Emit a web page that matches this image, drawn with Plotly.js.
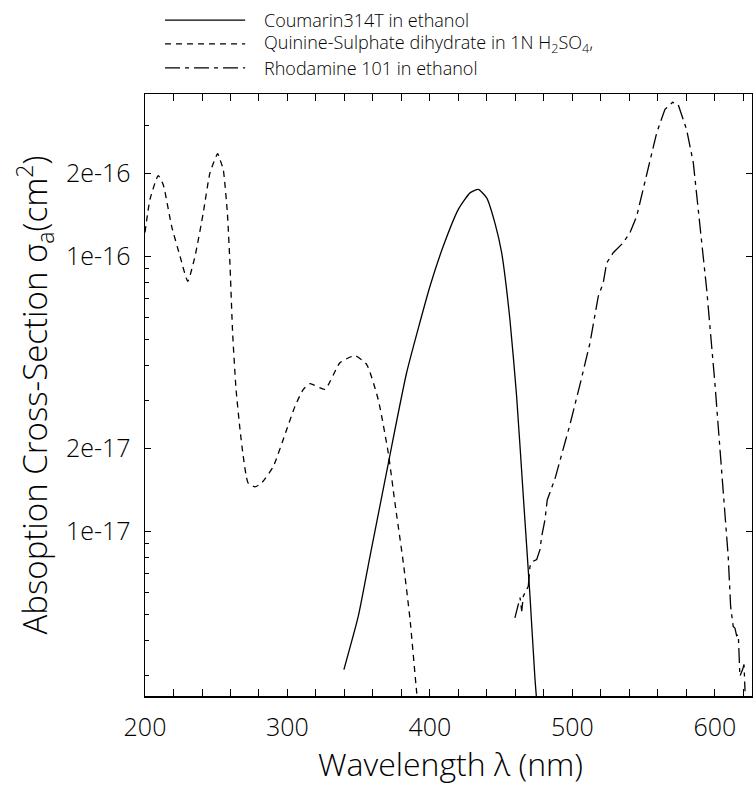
<!DOCTYPE html>
<html><head><meta charset="utf-8">
<script src="https://cdn.plot.ly/plotly-3.0.1.min.js"></script>
<style>html,body{margin:0;padding:0;background:#fff;}</style>
</head><body><div id="chart" style="width:753px;height:785px;"></div>
<script>
// Series names
const seriesNames = [
  "Coumarin314T in ethanol",
  "Quinine-Sulphate dihydrate in 1N H<sub>2</sub>SO<sub>4</sub>,",
  "Rhodamine 101 in ethanol"
];
const xTitle = "Wavelength λ (nm)";
const yTitle = "Absoption Cross-Section σ<sub>a</sub>(cm<sup>2</sup>)";

// Coumarin 314T (solid)
const lamC = [339.6, 349.7, 357.9, 370.8, 383.6, 400.0, 409.3, 419.9, 428.1, 433.9, 439.8, 445.6, 450.3, 456.1, 460.8, 465.5, 470.2, 473.7, 475.5];
const sigC = [3.14e-18, 4.91e-18, 8.1e-18, 1.77e-17, 3.77e-17, 7.78e-17, 1.087e-16, 1.48e-16, 1.70e-16, 1.75e-16, 1.63e-16, 1.32e-16, 1.03e-16, 5.89e-17, 3.1e-17, 1.34e-17, 5.8e-18, 2.9e-18, 2.2e-18];

// Quinine sulphate (dashed)
const lamQ = [200, 203.5, 209.3, 212.8, 218.7, 224.6, 230.0, 235.1, 240.9, 245.6, 251.0, 252.6, 254.9, 257.8, 259.6, 261.5, 263.9, 266.7, 268.8, 272.3, 277.2, 281.9, 290.0, 299.4, 305.3, 311.1, 315.8, 326.3, 336.8, 347.4, 355.6, 363.7, 370.7, 375.4, 381.3, 386.0, 390.7, 392.5];
const sigQ = [1.22e-16, 1.61e-16, 1.965e-16, 1.82e-16, 1.285e-16, 1.0e-16, 8.11e-17, 1.0e-16, 1.44e-16, 2.01e-16, 2.36e-16, 2.25e-16, 2.07e-16, 1.44e-16, 9.46e-17, 5.26e-17, 3.28e-17, 2.34e-17, 1.9e-17, 1.5e-17, 1.45e-17, 1.5e-17, 1.72e-17, 2.34e-17, 2.85e-17, 3.28e-17, 3.44e-17, 3.28e-17, 4.1e-17, 4.35e-17, 4.04e-17, 3.01e-17, 1.93e-17, 1.27e-17, 7.68e-18, 4.78e-18, 2.59e-18, 2.2e-18];

// Rhodamine 101 (dash-dot)
const lamR = [459.6, 461.3, 463.2, 464.4, 465.5, 469.0, 470.2, 472.5, 474.9, 477.2, 478.4, 480.7, 482.3, 487.7, 494.7, 498.2, 505.3, 512.3, 518.1, 521.6, 524.0, 528.6, 535.6, 540.4, 545.1, 552.1, 559.1, 564.9, 570.3, 574.2, 580.1, 584.8, 589.5, 594.2, 600.0, 603.5, 607.0, 609.3, 611.0, 612.8, 614.0, 615.2, 616.4, 617.1, 617.5, 619.4, 620.4, 621.1];
const sigR = [4.84e-18, 5.19e-18, 5.74e-18, 5.12e-18, 5.81e-18, 6.31e-18, 7.46e-18, 7.78e-18, 7.89e-18, 8.57e-18, 9.59e-18, 1.10e-17, 1.30e-17, 1.55e-17, 2.07e-17, 2.44e-17, 3.42e-17, 4.84e-17, 7.15e-17, 8.0e-17, 9.46e-17, 1.03e-16, 1.12e-16, 1.22e-16, 1.40e-16, 2.01e-16, 2.81e-16, 3.42e-16, 3.63e-16, 3.56e-16, 2.89e-16, 2.19e-16, 1.32e-16, 7.57e-17, 3.44e-17, 2.04e-17, 1.23e-17, 8.11e-18, 5.33e-18, 4.51e-18, 4.45e-18, 4.17e-18, 4.21e-18, 3.61e-18, 2.97e-18, 3.14e-18, 3.28e-18, 2.62e-18];

// Tick values / labels
const yMajorVals = [1e-17, 2e-17, 1e-16, 2e-16];
const yMajorText = ["1e-17", "2e-17", "1e-16", "2e-16"];
const yMinorVals = [3e-18, 4e-18, 5e-18, 6e-18, 7e-18, 8e-18, 9e-18, 3e-17, 4e-17, 5e-17, 6e-17, 7e-17, 8e-17, 9e-17, 3e-16];

const dashes = ["solid", "6px,5px", "15px,5px,4px,5px"];
const FONT = "'Open Sans', Roboto, 'Liberation Sans', Arial, sans-serif";

const traces = [
  {x: lamC, y: sigC, mode: "lines", line: {color: "#000", width: 1.3, dash: dashes[0], shape: "spline", smoothing: 0.5}, name: seriesNames[0], showlegend: false},
  {x: lamQ, y: sigQ, mode: "lines", line: {color: "#000", width: 1.3, dash: dashes[1], shape: "spline", smoothing: 0.5}, name: seriesNames[1], showlegend: false},
  {x: lamR, y: sigR, mode: "lines", line: {color: "#000", width: 1.3, dash: dashes[2]}, name: seriesNames[2], showlegend: false},
  {x: [], y: [], yaxis: "y2", mode: "lines", showlegend: false, hoverinfo: "skip"}
];

// custom legend (line samples + labels) above the plot
const legendRowsY = [1.1226, 1.0834, 1.0435];
const shapes = [];
const annotations = [];
for (let i = 0; i < 3; i++) {
  shapes.push({type: "line", xref: "paper", yref: "paper", x0: 0.033, x1: 0.165, y0: legendRowsY[i], y1: legendRowsY[i],
    line: {color: "#000", width: 1.2, dash: dashes[i]}});
  annotations.push({xref: "paper", yref: "paper", x: 0.1928, y: legendRowsY[i], xanchor: "left", yanchor: "middle",
    text: seriesNames[i], showarrow: false, font: {family: FONT, size: 18, color: "#000", weight: 300}});
}
// x-axis title (placed as annotation so it may sit near the bottom edge like the original)
annotations.push({xref: "paper", yref: "paper", x: 0.504, y: -0.1113, xanchor: "center", yanchor: "middle",
  borderpad: 0, text: xTitle, showarrow: false, font: {family: FONT, size: 32, color: "#000", weight: 300}});

const layout = {
  width: 753, height: 785,
  margin: {l: 145, r: 1, t: 94, b: 89},
  paper_bgcolor: "#fff", plot_bgcolor: "#fff",
  font: {family: FONT, color: "#000", weight: 300},
  showlegend: false,
  xaxis: {
    range: [200, 626], dtick: 100, tick0: 0,
    ticks: "inside", ticklen: 7, tickwidth: 1, tickcolor: "#000",
    minor: {dtick: 20, tick0: 0, ticks: "inside", ticklen: 4, tickwidth: 1, tickcolor: "#000"},
    showline: true, linecolor: "#000", linewidth: 1.5, mirror: "allticks",
    showgrid: false, zeroline: false,
    ticklabelstandoff: 8,
    tickfont: {family: FONT, size: 25, color: "#000", weight: 300}
  },
  yaxis: {
    type: "log", range: [-17.599, -15.41],
    tickmode: "array", tickvals: yMajorVals, ticktext: yMajorText,
    ticks: "inside", ticklen: 6, tickwidth: 1, tickcolor: "#000",
    minor: {tickmode: "array", tickvals: yMinorVals, ticks: "inside", ticklen: 4, tickwidth: 1, tickcolor: "#000"},
    showline: true, linecolor: "#000", linewidth: 1.5, mirror: true,
    showgrid: false, zeroline: false,
    ticklabelstandoff: 8,
    tickfont: {family: FONT, size: 25, color: "#000", weight: 300},
    title: {text: yTitle, font: {family: FONT, size: 33, color: "#000", weight: 300}, standoff: 8}
  },
  yaxis2: {
    type: "log", range: [-17.599, -15.41], overlaying: "y", side: "right", anchor: "x",
    tickmode: "array", tickvals: yMajorVals, ticks: "inside", ticklen: 6, tickwidth: 1, tickcolor: "#000",
    showticklabels: false, showline: false, showgrid: false, zeroline: false
  },
  shapes: shapes,
  annotations: annotations
};

Plotly.newPlot("chart", traces, layout, {staticPlot: true, displayModeBar: false});
</script></body></html>
